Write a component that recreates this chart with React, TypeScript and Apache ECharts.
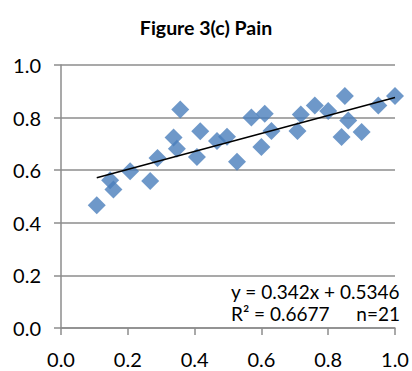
import React, { useEffect, useRef } from "react";
import * as echarts from "echarts";

const TITLE = "Figure 3(c) Pain";
const xValues = [0.107, 0.147, 0.157, 0.207, 0.267, 0.289, 0.337, 0.347, 0.357, 0.407, 0.417, 0.467, 0.497, 0.527, 0.57, 0.61, 0.6, 0.63, 0.708, 0.718, 0.76, 0.8, 0.85, 0.86, 0.84, 0.9, 0.95, 1.0];
const yValues = [0.467, 0.562, 0.527, 0.596, 0.559, 0.646, 0.724, 0.682, 0.831, 0.65, 0.748, 0.711, 0.727, 0.632, 0.8, 0.815, 0.688, 0.749, 0.749, 0.812, 0.846, 0.825, 0.882, 0.789, 0.726, 0.745, 0.846, 0.882];
const slope = 0.342;
const intercept = 0.5346;
const trendRange = [0.107, 1.0];
const xTicks = [0, 0.2, 0.4, 0.6, 0.8, 1.0];
const equationText = "y = 0.342x + 0.5346";
const r2Text = "R² = 0.6677";
const nText = "n=21";

const FONT = "Lato, 'Noto Sans', sans-serif";

export default function App() {
  const ref = useRef<HTMLDivElement>(null);
  useEffect(() => {
    document.body.style.margin = "0";
    const chart = echarts.init(ref.current!, undefined, { renderer: "svg" });
    const scatter = xValues.map((x, i) => [x, yValues[i]]);
    const trend = trendRange.map((x) => [x, slope * x + intercept]);
    const axisGray = "#8c8c8c";
    chart.setOption({
      animation: false,
      backgroundColor: "#ffffff",
      textStyle: { fontFamily: FONT },
      title: {
        text: TITLE,
        left: "center",
        top: 12,
        textStyle: { fontFamily: FONT, fontWeight: "bold", fontSize: 19.5, color: "#000" },
      },
      grid: { left: 61, right: 17, top: 65, bottom: 43, containLabel: false, outerBoundsMode: "none" },
      xAxis: {
        type: "value",
        min: 0,
        max: 1,
        interval: 0.2,
        axisLine: { show: true, lineStyle: { color: axisGray, width: 1.5 } },
        axisTick: { show: true, inside: false, length: 7, lineStyle: { color: axisGray, width: 1.5 } },
        splitLine: { show: false },
        axisLabel: {
          margin: 21,
          fontSize: 20,
          lineHeight: 20,
          color: "#000",
          fontFamily: FONT,
          formatter: (v: number) => v.toFixed(1),
          customValues: xTicks,
        },
      },
      yAxis: {
        type: "value",
        min: 0,
        max: 1,
        interval: 0.2,
        axisLine: { show: true, lineStyle: { color: axisGray, width: 1.5 } },
        axisTick: { show: true, inside: false, length: 7, lineStyle: { color: axisGray, width: 1.5 } },
        splitLine: { show: true, lineStyle: { color: axisGray, width: 1.5 } },
        axisLabel: {
          margin: 20,
          fontSize: 20,
          color: "#000",
          fontFamily: FONT,
          formatter: (v: number) => v.toFixed(1),
        },
      },
      series: [
        {
          type: "scatter",
          data: scatter,
          symbol: "diamond",
          symbolSize: 18,
          itemStyle: { color: "#4A7EBB" },
          z: 2,
        },
        {
          type: "line",
          data: trend,
          showSymbol: false,
          symbol: "none",
          lineStyle: { color: "#000", width: 1.5 },
          z: 3,
        },
      ],
      graphic: [
        {
          type: "text",
          right: 12,
          top: 282,
          style: { text: equationText, font: `19px ${FONT}`, fill: "#000" },
        },
        {
          type: "text",
          left: 231,
          top: 304,
          style: { text: r2Text, font: `19px ${FONT}`, fill: "#000" },
        },
        {
          type: "text",
          right: 12,
          top: 304,
          style: { text: nText, font: `19px ${FONT}`, fill: "#000" },
        },
      ],
    });
    return () => chart.dispose();
  }, []);
  return <div ref={ref} style={{ width: 412, height: 371 }} />;
}
